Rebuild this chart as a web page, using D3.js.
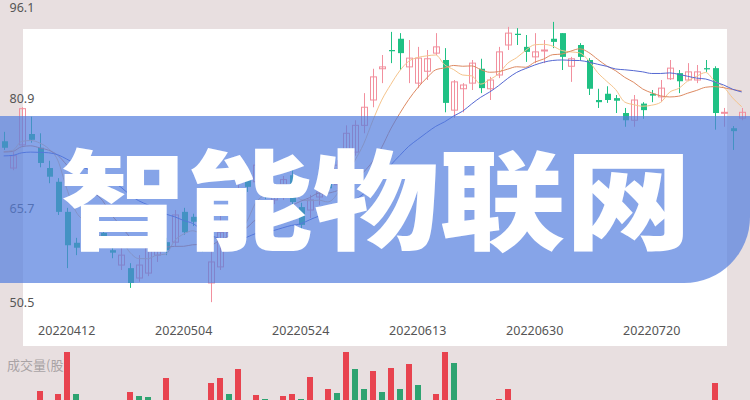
<!DOCTYPE html>
<html><head><meta charset="utf-8">
<script src="https://cdn.jsdelivr.net/npm/d3@7"></script>
<style>html,body{margin:0;padding:0;background:#e8dfe0;}svg{display:block;}</style>
</head><body>
<svg id="c" width="750" height="400"></svg>
<script>
const dates = ["20220330","20220331","20220401","20220406","20220407","20220408","20220411","20220412","20220413","20220414",
"20220415","20220418","20220419","20220420","20220421","20220422","20220425","20220426","20220427","20220428",
"20220504","20220505","20220506","20220509","20220510","20220511","20220512","20220513","20220516","20220517",
"20220518","20220519","20220520","20220524","20220525","20220526","20220527","20220530","20220531","20220601",
"20220602","20220606","20220607","20220608","20220609","20220610","20220613","20220614","20220615","20220616",
"20220617","20220620","20220621","20220622","20220623","20220624","20220627","20220628","20220629","20220630",
"20220701","20220704","20220705","20220706","20220707","20220708","20220711","20220712","20220713","20220714",
"20220715","20220718","20220720","20220721","20220722","20220725","20220726","20220727","20220728","20220729",
"20220801","20220802","20220803"];
const openP  = [75.2,71.5,74.7,76.2,74.3,71.5,69.6,65.4,60.4,64.6, 63.8,62.0,59.2,56.8,56.3,54.7,55.5,58.4,60.5,60.5,
 65.4,64.6,60.2,53.9,56.5,60.4,62.1,70.3,69.6,69.9, 67.1,67.6,70.5,66.1,65.7,67.5,69.3,69.2,71.2,73.7,
 77.4,80.9,85.9,88.9,90.7,86.2,83.6,85.5,88.4,87.3, 79.5,82.7,83.6,85.9,82.7,84.9,89.7,91.5,89.4,87.8,
 88.8,90.7,91.6,86.3,89.7,87.3,80.9,81.9,81.2,79.1, 78.1,80.4,81.9,81.4,84.3,85.2,84.1,84.1,86.0,86.0,
 79.1,77.0,78.4];
const highP  = [76.5,73.7,79.9,78.6,76.3,72.5,70.1,66.0,61.2,65.1, 64.4,62.8,60.0,59.6,57.1,58.4,62.1,62.8,61.2,65.7,
 66.0,65.1,60.9,59.2,64.9,63.3,69.2,71.0,72.6,70.4, 68.5,70.4,71.2,66.7,67.8,68.7,69.9,72.6,77.4,78.1,
 82.0,85.9,88.1,91.8,91.6,90.5,89.4,88.9,91.6,89.2, 84.1,83.6,87.3,87.5,84.6,89.4,92.6,92.4,91.3,91.6,
 90.5,93.4,91.6,87.8,90.0,87.6,82.7,83.1,81.7,79.8, 81.7,80.6,82.5,84.1,87.3,85.7,86.8,86.5,87.3,86.3,
 79.8,77.3,79.8];
const lowP   = [74.0,71.2,74.4,75.0,71.6,69.4,64.9,56.3,58.4,63.1, 60.9,60.5,57.9,56.0,53.1,54.1,55.0,57.3,58.4,59.9,
 61.7,63.1,58.9,50.8,56.0,59.2,61.5,68.2,69.0,67.2, 66.5,67.1,66.4,61.7,64.4,66.4,68.1,68.5,70.5,73.2,
 76.3,79.9,83.6,86.8,85.7,83.6,82.8,84.1,88.1,79.2, 78.4,79.2,82.5,82.0,80.9,84.4,88.9,89.7,87.0,86.8,
 86.8,89.2,85.7,83.8,87.3,81.7,79.8,80.5,79.1,77.2, 77.2,78.3,80.6,80.6,84.1,82.0,83.9,83.6,85.4,76.8,
 77.2,74.0,78.1];
const closeP = [74.3,73.2,79.7,75.4,72.2,70.3,65.4,60.0,59.6,63.8, 62.0,61.3,58.8,58.4,53.9,56.8,61.2,61.7,59.2,64.9,
 62.1,63.8,59.2,57.3,62.1,62.1,68.5,68.9,71.9,67.8, 67.8,69.9,66.8,63.3,67.1,68.2,68.7,71.9,76.3,77.4,
 79.9,84.6,86.2,88.7,88.4,87.6,87.6,87.5,89.4,80.5, 83.8,83.3,86.8,82.8,84.1,88.6,91.6,91.3,88.6,88.6,
 88.9,90.2,87.8,87.5,87.8,82.7,80.6,80.9,80.8,78.1, 80.9,79.5,81.6,82.8,86.0,83.9,85.4,85.4,85.8,79.1,
 79.2,76.6,79.2];
// closes of the 19 sessions before the first visible one (for the moving averages)
const priorCloses = [71.8,72.6,73.4,72.9,71.5,70.8,71.9,73.2,74.5,73.8,72.4,73.1,74.2,75.0,73.6,72.3,73.5,74.8,73.9];
// volume (万股)
const volume = [220,180,260,150,390,240,360,780,360,200, 170,190,160,210,380,340,330,250,520,270,
 230,180,200,470,520,360,610,240,350,310, 190,340,360,310,530,220,410,370,780,610,
 410,590,380,620,410,660,450,280,360,780, 670,250,270,260,220,310,410,230,200,240,
 180,260,290,200,170,280,190,150,160,230, 250,140,130,180,240,160,170,150,140,470,
 200,260,190];
const volUp = [1,1,1,0,1,0,1,1,0,0, 0,0,0,1,1,0,0,1,1,1, 0,0,0,1,1,0,1,0,1,0, 1,1,1,0,1,1,1,0,1,0,
 0,1,0,1,0,1,0,1,1,1, 0,1,1,0,1,1,1,0,0,1, 1,0,0,1,0,0,0,0,0,0, 1,0,0,1,1,0,1,1,0,1, 1,0,1];
const yTicks = [96.1, 80.9, 65.7, 50.5];
const xTickLabels = ["20220412","20220504","20220524","20220613","20220630","20220720"];
const maPeriods = [5, 10, 20];
const title = "智能物联网";
const volumeLabel = "成交量(股)";

const svg = d3.select("#c");
const x = d3.scalePoint().domain(dates).range([3.7, 741.7]);
const y = d3.scaleLinear().domain([50.5, 65.7, 80.9, 96.1]).range([304, 210, 100, 5]);
const yv = d3.scaleLinear().domain([0, 800]).range([430, 350]);

svg.append("rect").attr("width",750).attr("height",400).attr("fill","#e8dfe0");
svg.append("rect").attr("x",23).attr("y",29).attr("width",704).attr("height",317).attr("fill","#ffffff");

svg.append("text").attr("x",7).attr("y",366).attr("dominant-baseline","middle")
  .attr("font-family","'Noto Sans CJK SC',sans-serif").attr("font-size",13).attr("fill","#a9a3a5").text(volumeLabel);

const data = dates.map((d,i)=>({d, o:openP[i], h:highP[i], l:lowP[i], c:closeP[i], v:volume[i], vu:volUp[i]}));
const px = d => Math.round(x(d));

// volume bars
svg.append("g").selectAll("rect").data(data).join("rect")
  .attr("x", d => px(d.d)-3).attr("width", 6)
  .attr("y", d => yv(d.v)).attr("height", d => yv(0)-yv(d.v))
  .attr("fill", d => d.vu ? "#e8434f" : "#2ea371");

// candles
const RED = "#f2909e", GREEN = "#1fc184";
const cg = svg.append("g");
cg.selectAll("line").data(data).join("line")
  .attr("x1", d => px(d.d)+0.5).attr("x2", d => px(d.d)+0.5)
  .attr("y1", d => y(d.h)).attr("y2", d => y(d.l))
  .attr("stroke", d => d.c >= d.o ? RED : GREEN).attr("stroke-width",1);
cg.selectAll("rect").data(data).join("rect")
  .attr("x", d => d.c >= d.o ? px(d.d)-2.5 : px(d.d)-2)
  .attr("width", 6)
  .attr("y", d => y(Math.max(d.o,d.c)))
  .attr("height", d => Math.max(1, y(Math.min(d.o,d.c)) - y(Math.max(d.o,d.c))))
  .attr("fill", d => d.c >= d.o ? "#ffffff" : GREEN)
  .attr("fill-opacity", d => d.c >= d.o ? 0 : 1)
  .attr("stroke", d => d.c >= d.o ? RED : "none").attr("stroke-width",1);

// moving averages
const allC = priorCloses.concat(closeP);
const maColors = ["#f5c48c", "#dd8a62", "#5568d2"];
maPeriods.forEach((n,k)=>{
  const vals = closeP.map((c,i)=> d3.mean(allC.slice(i+priorCloses.length-n+1, i+priorCloses.length+1)));
  svg.append("path").datum(vals)
    .attr("d", d3.line().x((v,i)=>x(dates[i])).y(v=>y(v)).curve(d3.curveMonotoneX))
    .attr("fill","none").attr("stroke",maColors[k]).attr("stroke-width",1);
});

// axis labels
svg.append("g").selectAll("text").data(yTicks).join("text")
  .attr("x",9.5).attr("y",v=>Math.max(9, y(v))).attr("dominant-baseline","middle")
  .attr("font-family","'Noto Sans',sans-serif").attr("font-size",12.5).attr("fill","#555")
  .text(v=>v.toFixed(1));
svg.append("g").selectAll("text").data(xTickLabels).join("text")
  .attr("x",d=>x(d)).attr("y",332).attr("dominant-baseline","middle").attr("text-anchor","middle")
  .attr("font-family","'Noto Sans',sans-serif").attr("font-size",12.5).attr("fill","#555")
  .text(d=>d);

// banner
const R = 66;
svg.append("path")
  .attr("d", `M0,116H750V${283-R}A${R},${R} 0 0 1 ${750-R},283H0Z`)
  .attr("fill","rgb(82,126,222)").attr("fill-opacity",0.7);
svg.append("text").attr("transform","translate(60,241) scale(1.17,1)")
  .attr("font-family","'Noto Sans CJK SC',sans-serif").attr("font-weight",900)
  .attr("font-size",108).attr("fill","#ffffff").text(title);
</script>
</body></html>
